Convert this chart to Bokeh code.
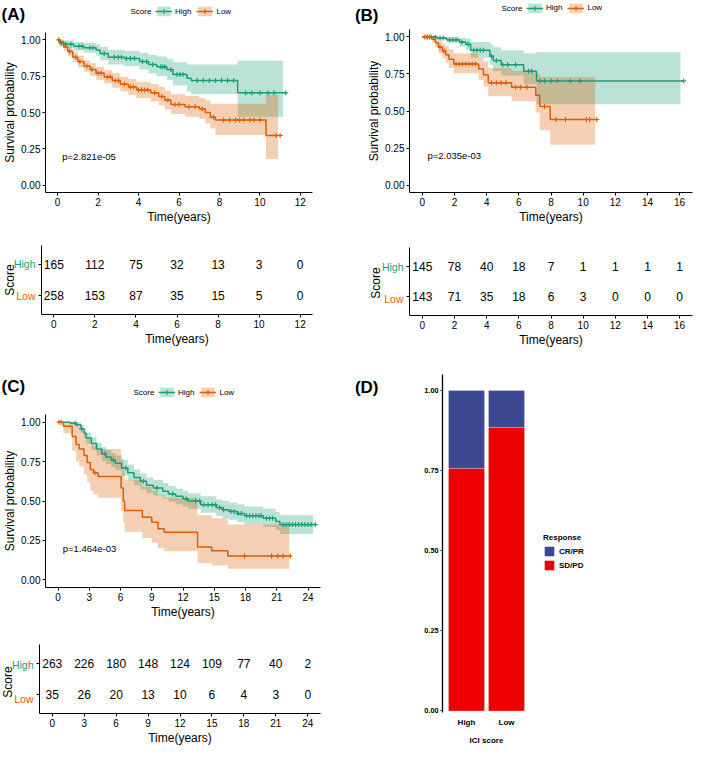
import numpy as np
from math import pi
from bokeh.plotting import figure
from bokeh.models import (Range1d, FixedTicker, PrintfTickFormatter, Legend, LegendItem,
                          Label, ColumnDataSource)
from bokeh.layouts import row, column
from bokeh.core.properties import value
from bokeh.embed import file_html
from bokeh.resources import INLINE

FONT = "Liberation Sans"
GREEN = "#1B9E77"
ORANGE = "#D95F02"
BLUE = "#3B4992"
RED = "#EE0000"
INK = "#000000"
NAN = float("nan")

# ---------------- Panel A data ----------------
A_high_t = [0, 0.1, 0.3, 0.8, 1.3, 1.9, 2.1, 2.5, 3.3, 4.05, 4.5, 4.9, 5.4, 5.7, 6.4, 6.6, 8.9]
A_high_s = [1.0, 0.985, 0.97, 0.955, 0.945, 0.93, 0.905, 0.88, 0.872, 0.85, 0.83, 0.815, 0.795, 0.762, 0.735, 0.72, 0.635]
A_high_lo = [1.0, 0.97, 0.945, 0.925, 0.91, 0.89, 0.86, 0.83, 0.82, 0.795, 0.77, 0.75, 0.725, 0.685, 0.645, 0.625, 0.47]
A_high_hi = [1.0, 1.0, 0.995, 0.985, 0.98, 0.97, 0.95, 0.93, 0.925, 0.91, 0.895, 0.885, 0.87, 0.845, 0.83, 0.83, 0.855]
A_high_end = 11.28
A_high_band_end = 11.15
A_high_cens = [0.15, 0.4, 0.65, 1.05, 1.2, 1.6, 1.75, 2.3, 2.8, 3.0, 3.15, 3.4, 3.6, 3.8, 4.2, 4.4, 4.7,
               5.1, 5.2, 5.3, 5.6, 5.9, 6.05, 6.2, 6.9, 7.2, 7.5, 7.8, 8.1, 8.4, 8.7, 9.3, 9.6, 10.0,
               10.4, 10.7, 11.28]

A_low_t = [0, 0.1, 0.3, 0.5, 0.75, 1.0, 1.3, 1.6, 1.9, 2.3, 2.7, 3.1, 3.5, 3.9, 4.6, 5.0, 5.3, 5.6,
           6.3, 7.0, 7.3, 7.55, 7.8, 10.3]
A_low_s = [1.0, 0.975, 0.95, 0.92, 0.88, 0.85, 0.82, 0.795, 0.77, 0.745, 0.72, 0.695, 0.675, 0.655,
           0.635, 0.61, 0.585, 0.555, 0.54, 0.525, 0.50, 0.468, 0.448, 0.342]
A_low_lo = [1.0, 0.955, 0.925, 0.89, 0.845, 0.81, 0.78, 0.75, 0.725, 0.70, 0.67, 0.645, 0.62, 0.60,
            0.575, 0.55, 0.52, 0.49, 0.47, 0.455, 0.425, 0.39, 0.345, 0.18]
A_low_hi = [1.0, 0.995, 0.975, 0.95, 0.915, 0.89, 0.86, 0.84, 0.815, 0.79, 0.77, 0.745, 0.73, 0.71,
            0.695, 0.675, 0.65, 0.625, 0.615, 0.60, 0.585, 0.56, 0.56, 0.62]
A_low_end = 11.0
A_low_band_end = 10.9
A_low_cens = [0.05, 0.2, 0.6, 0.9, 1.1, 1.45, 1.7, 2.0, 2.15, 2.45, 2.6, 2.85, 3.0, 3.3, 3.6, 3.75,
              4.0, 4.15, 4.3, 4.45, 4.8, 5.15, 5.45, 5.8, 6.0, 6.5, 6.8, 7.15, 7.7, 8.2, 8.5, 8.8,
              9.0, 9.2, 9.5, 9.7, 10.0, 10.8, 11.0]

A_times = [0, 2, 4, 6, 8, 10, 12]
A_risk_high = [165, 112, 75, 32, 13, 3, 0]
A_risk_low = [258, 153, 87, 35, 15, 5, 0]
A_pval = "p=2.821e-05"

# ---------------- Panel B data ----------------
B_high_t = [0, 0.9, 1.5, 2.3, 2.7, 3.0, 4.2, 4.4, 4.9, 6.3, 7.1]
B_high_s = [1.0, 0.993, 0.98, 0.965, 0.95, 0.91, 0.87, 0.84, 0.812, 0.768, 0.703]
B_high_lo = [1.0, 0.98, 0.96, 0.935, 0.915, 0.86, 0.81, 0.77, 0.74, 0.68, 0.545]
B_high_hi = [1.0, 1.0, 1.0, 0.995, 0.99, 0.965, 0.95, 0.93, 0.91, 0.89, 0.897]
B_high_end = 16.25
B_high_band_end = 16.05
B_high_cens = [0.3, 0.55, 0.8, 1.1, 1.3, 1.7, 1.9, 2.1, 2.45, 2.85, 3.2, 3.4, 3.6, 3.8, 4.3, 4.6,
               5.0, 5.3, 5.8, 6.6, 6.8, 7.3, 7.6, 8.0, 8.4, 9.2, 9.8, 16.25]

B_low_t = [0, 0.6, 0.8, 1.0, 1.25, 1.45, 1.65, 1.95, 3.5, 3.8, 4.1, 5.55, 7.05, 7.3, 7.95]
B_low_s = [1.0, 0.985, 0.96, 0.93, 0.905, 0.88, 0.85, 0.818, 0.783, 0.745, 0.69, 0.66, 0.607, 0.53, 0.443]
B_low_lo = [1.0, 0.965, 0.93, 0.89, 0.855, 0.825, 0.79, 0.755, 0.71, 0.665, 0.60, 0.565, 0.49, 0.37, 0.272]
B_low_hi = [1.0, 1.0, 0.99, 0.975, 0.955, 0.94, 0.915, 0.89, 0.86, 0.835, 0.79, 0.77, 0.75, 0.73, 0.728]
B_low_end = 10.85
B_low_band_end = 10.75
B_low_cens = [0.15, 0.3, 0.45, 1.1, 1.35, 2.1, 2.3, 2.5, 2.7, 2.9, 3.1, 3.3, 4.3, 4.6, 4.9, 5.2,
              5.8, 6.1, 6.5, 7.6, 8.3, 8.9, 10.2, 10.4, 10.85]

B_times = [0, 2, 4, 6, 8, 10, 12, 14, 16]
B_risk_high = [145, 78, 40, 18, 7, 1, 1, 1, 1]
B_risk_low = [143, 71, 35, 18, 6, 3, 0, 0, 0]
B_pval = "p=2.035e-03"

# ---------------- Panel C data ----------------
C_high_t = [0, 1.2, 1.73, 2.2, 2.5, 2.7, 3.2, 3.7, 4.2, 4.6, 5.1, 5.5, 6.1, 6.7, 7.3, 7.9, 8.5, 9.15,
            10.06, 10.6, 11.3, 12.0, 12.5, 13.7, 15.2, 15.8, 16.4, 17.2, 17.9, 19.7, 20.9, 21.3]
C_high_s = [1.0, 0.995, 0.985, 0.96, 0.93, 0.90, 0.865, 0.83, 0.80, 0.78, 0.76, 0.74, 0.71, 0.68,
            0.65, 0.625, 0.60, 0.583, 0.5625, 0.545, 0.53, 0.515, 0.50, 0.476, 0.458, 0.445, 0.434,
            0.42, 0.406, 0.39, 0.37, 0.35]
C_high_lo = [1.0, 0.985, 0.97, 0.935, 0.90, 0.865, 0.825, 0.79, 0.755, 0.735, 0.715, 0.695, 0.66,
             0.63, 0.60, 0.575, 0.55, 0.535, 0.515, 0.495, 0.48, 0.465, 0.45, 0.425, 0.405, 0.39,
             0.38, 0.365, 0.35, 0.335, 0.315, 0.29]
C_high_hi = [1.0, 1.0, 1.0, 0.985, 0.96, 0.935, 0.905, 0.87, 0.845, 0.825, 0.805, 0.79, 0.76, 0.73,
             0.70, 0.675, 0.65, 0.635, 0.615, 0.595, 0.58, 0.565, 0.55, 0.53, 0.51, 0.50, 0.49,
             0.48, 0.465, 0.45, 0.43, 0.41]
C_high_end = 24.7
C_high_band_end = 24.5
C_high_cens = [0.3, 1.65, 2.25, 4.5, 5.3, 6.5, 8.2, 9.5, 11.0, 12.3, 13.2, 13.6, 14.0, 14.4, 14.8,
               15.1, 15.5, 15.9, 16.6, 16.9, 17.3, 17.6, 18.1, 18.4, 18.7, 19.0, 19.3, 19.5, 20.0,
               20.3, 20.6, 21.6, 21.9, 22.2, 22.5, 22.8, 23.1, 23.4, 23.7, 24.0, 24.3, 24.7]

C_low_t = [0, 0.52, 1.36, 1.73, 2.03, 2.5, 2.8, 3.1, 3.4, 3.85, 6.06, 6.27, 6.4, 8.1, 9.0, 9.6,
           10.2, 13.4, 14.75, 16.3]
C_low_s = [1.0, 0.975, 0.91, 0.86, 0.83, 0.79, 0.745, 0.70, 0.68, 0.656, 0.583, 0.50, 0.44, 0.396,
           0.365, 0.323, 0.302, 0.208, 0.183, 0.15]
C_low_lo = [1.0, 0.93, 0.82, 0.75, 0.72, 0.67, 0.62, 0.565, 0.545, 0.52, 0.44, 0.365, 0.305, 0.265,
            0.235, 0.20, 0.18, 0.105, 0.09, 0.07]
C_low_hi = [1.0, 1.0, 1.0, 0.98, 0.96, 0.93, 0.90, 0.86, 0.85, 0.83, 0.77, 0.69, 0.635, 0.59,
            0.565, 0.54, 0.52, 0.41, 0.39, 0.35]
C_low_end = 22.3
C_low_band_end = 22.2
C_low_cens = [0.1, 3.55, 17.9, 20.5, 21.1, 21.6, 22.3]

C_times = [0, 3, 6, 9, 12, 15, 18, 21, 24]
C_risk_high = [263, 226, 180, 148, 124, 109, 77, 40, 2]
C_risk_low = [35, 26, 20, 13, 10, 6, 4, 3, 0]
C_pval = "p=1.464e-03"

# ---------------- Panel D data ----------------
D_groups = ["High", "Low"]
D_crpr = [0.243, 0.115]
D_sdpd = [0.757, 0.885]
D_responses = [("CR/PR", BLUE), ("SD/PD", RED)]

GROUPS = [("High", GREEN), ("Low", ORANGE)]
ROW = {"High": 2, "Low": 1}
SURV_TICKS = [0, 0.25, 0.5, 0.75, 1.0]


def no_align(f):
    # keep every figure's frame where its own borders put it
    try:
        f.frame_align = False
    except Exception:
        pass
    return f


def style_axes(p, tick_size="10px", title_size="12px"):
    p.outline_line_color = None
    p.xgrid.visible = False
    p.ygrid.visible = False
    for ax in p.axis:
        ax.axis_line_color = INK
        ax.axis_line_width = 1
        ax.major_tick_line_color = INK
        ax.major_tick_in = 0
        ax.major_tick_out = 3
        ax.minor_tick_line_color = None
        ax.major_label_text_font = FONT
        ax.major_label_text_font_size = tick_size
        ax.major_label_text_color = INK
        ax.major_label_standoff = 2
        ax.axis_label_text_font = FONT
        ax.axis_label_text_font_size = title_size
        ax.axis_label_text_font_style = "normal"
        ax.axis_label_text_color = INK
        ax.axis_label_standoff = 1


def blank_fig(W, H, bt=0, bb=0, y_range=None):
    f = figure(width=W, height=H, x_range=Range1d(0, 1),
               y_range=y_range if y_range is not None else Range1d(0, 1),
               output_backend="svg", toolbar_location=None,
               min_border_left=0, min_border_right=0, min_border_top=bt, min_border_bottom=bb)
    no_align(f)
    f.xaxis.visible = False
    f.yaxis.visible = False
    f.xgrid.visible = False
    f.ygrid.visible = False
    f.outline_line_color = None
    f.scatter(x=[NAN], y=[NAN], size=1, alpha=0)
    return f


def style_legend(leg, size="8px", bold=False):
    leg.label_text_font = FONT
    leg.label_text_font_size = size
    leg.label_text_color = INK
    if bold:
        leg.label_text_font_style = "bold"
    leg.padding = 0
    leg.margin = 0
    leg.border_line_color = None
    leg.background_fill_alpha = 0


def tag(p, text, x, y):
    p.add_layout(Label(x=x, y=y, x_units="screen", y_units="screen", text=text,
                       text_font=FONT, text_font_size="17px", text_font_style="bold",
                       text_color=INK, text_baseline="top", text_align="left"))


def header_strip(W, H, tag_text, tag_xy, leg_xy):
    # legend keys only: glyphs with NaN data draw nothing in the frame
    s = blank_fig(W, H)
    items = []
    for name, color in GROUPS:
        band = s.quad(left=[NAN], right=[NAN], top=[NAN], bottom=[NAN], fill_color=color,
                      fill_alpha=0.3, line_color=None)
        line = s.line(x=[NAN], y=[NAN], line_color=color, line_width=1.5)
        mk = s.scatter(x=[NAN], y=[NAN], marker="cross", size=5, line_color=color, line_width=1.1)
        items.append(LegendItem(label=name, renderers=[band, line, mk]))
    s.add_layout(Label(x=leg_xy[0], y=H - leg_xy[1] - 6, x_units="screen", y_units="screen",
                       text="Score", text_font=FONT, text_font_size="8px", text_color=INK,
                       text_baseline="middle", text_align="left"))
    leg = Legend(items=items, orientation="horizontal",
                 location=(leg_xy[0] + 25, H - leg_xy[1] - 12))
    style_legend(leg)
    leg.glyph_width = 17
    leg.glyph_height = 12
    leg.label_height = 12
    leg.label_width = 10
    leg.label_standoff = 3
    leg.spacing = 5
    s.add_layout(leg)
    tag(s, tag_text, tag_xy[0], H - tag_xy[1])
    return s


def km_panel(W, H, bl, br, bt, bb, xr, xticks, curves, pval, pval_x):
    p = figure(width=W, height=H, x_range=Range1d(*xr), y_range=Range1d(-0.05, 1.05),
               output_backend="svg", toolbar_location=None,
               min_border_left=bl, min_border_right=br, min_border_top=bt, min_border_bottom=bb,
               x_axis_label="Time(years)", y_axis_label="Survival probability")
    no_align(p)
    style_axes(p)
    p.xaxis.ticker = FixedTicker(ticks=xticks)
    p.yaxis.ticker = FixedTicker(ticks=SURV_TICKS)
    p.yaxis.formatter = PrintfTickFormatter(format="%.2f")
    for (t, s, lo, hi, end, bend, cens), color in curves:
        p.varea_step(x=list(t) + [bend], y1=list(lo) + [lo[-1]], y2=list(hi) + [hi[-1]],
                     step_mode="after", fill_color=color, fill_alpha=0.3)
    for (t, s, lo, hi, end, bend, cens), color in curves:
        p.step(list(t) + [end], list(s) + [s[-1]], mode="after", line_color=color, line_width=1.5)
        idx = np.searchsorted(np.array(t), np.array(cens), side="right") - 1
        p.scatter(cens, np.array(s)[idx], marker="cross", size=5, line_color=color, line_width=1.1)
    p.add_layout(Label(x=pval_x, y=0.2, text=pval, text_font=FONT, text_font_size="9.5px",
                       text_color=INK, text_baseline="middle", text_align="left"))
    return p


def risk_panel(W, H, br, bt, bb, xr, xticks, high, low):
    p = figure(width=W, height=H, x_range=Range1d(*xr), y_range=Range1d(0.4, 2.6),
               output_backend="svg", toolbar_location=None,
               min_border_left=5, min_border_right=br, min_border_top=bt, min_border_bottom=bb,
               x_axis_label="Time(years)")
    no_align(p)
    style_axes(p)
    p.xaxis.ticker = FixedTicker(ticks=xticks)
    p.yaxis.ticker = FixedTicker(ticks=[ROW["Low"], ROW["High"]])
    p.yaxis.major_label_overrides = {ROW["Low"]: "", ROW["High"]: ""}
    p.yaxis.major_label_standoff = 0
    for name, vals in (("High", high), ("Low", low)):
        p.text(x=xticks, y=[ROW[name]] * len(vals), text=[str(v) for v in vals],
               text_font=value(FONT), text_font_size="12px", text_color=INK,
               text_align="center", text_baseline="middle")
    return p


def risk_labels(W, H, bt, bb, score_x, y_range):
    f = blank_fig(W, H, bt, bb, y_range=y_range)
    for name, color in GROUPS:
        f.add_layout(Label(x=W - 1, y=ROW[name], x_units="screen", y_units="data", text=name,
                           text_font=FONT, text_font_size="10.5px", text_color=color,
                           text_align="right", text_baseline="middle"))
    f.add_layout(Label(x=score_x, y=1.5, x_units="screen", y_units="data", text="Score",
                       angle=pi / 2, text_font=FONT, text_font_size="12px", text_color=INK,
                       text_align="center", text_baseline="middle"))
    return f


A_curves = [((A_high_t, A_high_s, A_high_lo, A_high_hi, A_high_end, A_high_band_end, A_high_cens), GREEN),
            ((A_low_t, A_low_s, A_low_lo, A_low_hi, A_low_end, A_low_band_end, A_low_cens), ORANGE)]
B_curves = [((B_high_t, B_high_s, B_high_lo, B_high_hi, B_high_end, B_high_band_end, B_high_cens), GREEN),
            ((B_low_t, B_low_s, B_low_lo, B_low_hi, B_low_end, B_low_band_end, B_low_cens), ORANGE)]
C_curves = [((C_high_t, C_high_s, C_high_lo, C_high_hi, C_high_end, C_high_band_end, C_high_cens), GREEN),
            ((C_low_t, C_low_s, C_low_lo, C_low_hi, C_low_end, C_low_band_end, C_low_cens), ORANGE)]

# Panel A  (left column 338 px wide)
hA = header_strip(338, 28, "(A)", (1, 4), (130, 5))
pA = km_panel(338, 206, 41, 26, 4, 42, (-0.6, 12.6), A_times, A_curves, A_pval, 0.23)
tA = risk_panel(302, 115, 26, 11, 35, (-0.6, 12.6), A_times, A_risk_high, A_risk_low)
lA = risk_labels(36, 115, 11, 35, 9.5, tA.y_range)
# Panel B  (right column 355 px wide)
hB = header_strip(355, 28, "(B)", (16.4, 5), (163, 1.5))
pB = km_panel(355, 206, 71, 1, 1, 42, (-0.8, 16.8), B_times, B_curves, B_pval, 0.32)
tB = risk_panel(289, 115, 1, 13, 31, (-0.8, 16.8), B_times, B_risk_high, B_risk_low)
lB = risk_labels(66, 115, 13, 31, 37, tB.y_range)
# Panel C
hC = header_strip(338, 60, "(C)", (1, 27), (133, 37))
pC = km_panel(338, 214, 39, 18, 5, 36, (-1.2, 25.2), C_times, C_curves, C_pval, 0.45)
tC = risk_panel(304, 124, 18, 21, 28, (-1.2, 25.2), C_times, C_risk_high, C_risk_low)
lC = risk_labels(34, 124, 21, 28, 7.5, tC.y_range)

# ---------------- Panel D ----------------
D_H, D_bt, D_bb = 398, 25, 35
D_x = [i + 1 for i in range(len(D_groups))]
pD = figure(width=130, height=D_H, x_range=Range1d(0.4, len(D_groups) + 0.6),
            y_range=Range1d(-0.005, 1.05), output_backend="svg", toolbar_location=None,
            min_border_left=37, min_border_right=5, min_border_top=D_bt, min_border_bottom=D_bb,
            x_axis_label="ICI score")
no_align(pD)
style_axes(pD, tick_size="7.3px", title_size="8px")
for ax in pD.axis:
    ax.major_label_text_font_style = "bold"
    ax.axis_label_text_font_style = "bold"
    ax.major_tick_out = 2
pD.xaxis.ticker = FixedTicker(ticks=D_x)
pD.xaxis.major_label_overrides = {x: g for x, g in zip(D_x, D_groups)}
pD.xaxis.major_label_text_font_size = "8px"
pD.xaxis.axis_line_color = None
pD.xaxis.major_tick_line_color = None
pD.xaxis.major_label_standoff = 3
pD.xaxis.axis_label_standoff = 6
pD.yaxis.axis_line_width = 1.3
pD.yaxis.ticker = FixedTicker(ticks=SURV_TICKS)
pD.yaxis.formatter = PrintfTickFormatter(format="%.2f")
srcD = ColumnDataSource(dict(x=D_x, SDPD=D_sdpd, CRPR=D_crpr))
pD.vbar_stack(["SDPD", "CRPR"], x="x", width=0.9, color=[RED, BLUE],
              line_color="white", line_width=0.4, line_alpha=0.6, source=srcD)

dLeg = blank_fig(158, D_H)
legD_items = []
for name, color in D_responses:
    r = dLeg.quad(left=[NAN], right=[NAN], top=[NAN], bottom=[NAN], fill_color=color,
                  line_color=None)
    legD_items.append(LegendItem(label=name, renderers=[r]))
legD = Legend(items=legD_items, title="Response", location=(8, 176))
style_legend(legD, bold=True)
legD.title_text_font = FONT
legD.title_text_font_size = "8px"
legD.title_text_font_style = "bold"
legD.title_text_color = INK
legD.title_standoff = 3
legD.glyph_width = 12
legD.glyph_height = 12
legD.label_height = 12
legD.label_width = 10
legD.label_standoff = 4
legD.spacing = 2
dLeg.add_layout(legD)

dTag = blank_fig(67, D_H)
tag(dTag, "(D)", 16.4, D_H - 28.8)

layout = column(
    row(column(hA, pA, row(lA, tA)), column(hB, pB, row(lB, tB))),
    row(column(hC, pC, row(lC, tC)), dTag, pD, dLeg),
)

open("out.html", "w").write(file_html(layout, INLINE, title="Survival"))
